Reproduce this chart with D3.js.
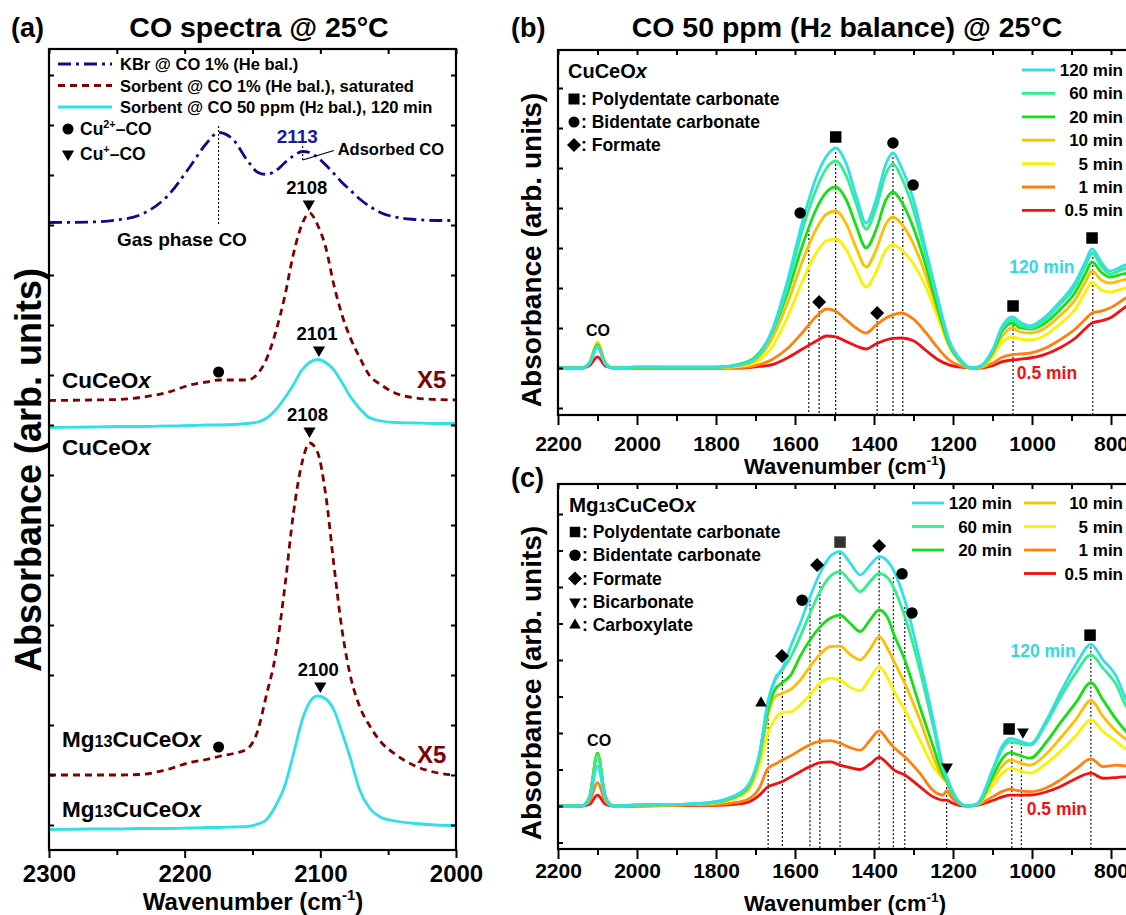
<!DOCTYPE html>
<html>
<head>
<meta charset="utf-8">
<script src="https://cdn.jsdelivr.net/npm/d3@7"></script>
<style>
  body { margin: 0; background: #fff; }
</style>
</head>
<body>
<div id="chart"></div>
<script>
// ---------- data ----------
// panel (a): CO region, offsets in tick units
var wnA = [2300, 2270, 2250, 2233, 2213, 2196, 2184, 2175, 2164, 2154, 2146, 2140, 2133, 2126, 2120,
  2113, 2108, 2102, 2096, 2090, 2084, 2078, 2071, 2064, 2055, 2045, 2030, 2015, 2000];
var kbrA = [12.05, 12.06, 12.1, 12.2, 12.57, 13.17, 13.63, 13.85, 13.7, 13.3, 13.05, 13.01, 13.08, 13.25, 13.38,
  13.47, 13.45, 13.35, 13.2, 13.03, 12.85, 12.7, 12.52, 12.38, 12.24, 12.16, 12.11, 12.09, 12.09];
var cuSatA = [8.49, 8.5, 8.51, 8.55, 8.65, 8.8, 8.86, 8.9, 8.9, 8.9, 9.03, 9.3, 9.85, 10.6, 11.4,
  12.05, 12.24, 12.0, 11.55, 10.8, 10.2, 9.75, 9.35, 9.0, 8.8, 8.64, 8.54, 8.51, 8.5];
var cuH2A = [7.95, 7.96, 7.97, 7.97, 7.98, 7.99, 8.0, 8.0, 8.01, 8.03, 8.06, 8.13, 8.3, 8.55, 8.8,
  9.12, 9.25, 9.31, 9.25, 9.1, 8.85, 8.57, 8.33, 8.15, 8.08, 8.05, 8.04, 8.03, 8.03];
var mgSatA = [1.0, 1.0, 1.0, 1.01, 1.11, 1.25, 1.31, 1.37, 1.43, 1.52, 1.9, 2.57, 3.4, 4.8, 6.2,
  7.3, 7.64, 7.45, 6.6, 5.2, 3.9, 3.0, 2.37, 2.0, 1.65, 1.42, 1.18, 1.05, 1.0];
var mgH2A = [-0.09, -0.08, -0.08, -0.07, -0.07, -0.06, -0.05, -0.05, -0.04, -0.03, 0.02, 0.1, 0.38, 0.8, 1.4,
  2.13, 2.45, 2.58, 2.52, 2.3, 1.85, 1.35, 0.7, 0.35, 0.15, 0.08, 0.03, 0.0, -0.01];

// panel (b): CuCeOx time series
var times = ["120 min", "60 min", "20 min", "10 min", "5 min", "1 min", "0.5 min"];
var timeColors = ["#33dfe6", "#2ef08c", "#14e014", "#ffbf00", "#f8f400", "#ff800a", "#f21010"];
var wnB = [2200, 2140, 2120, 2100, 2080, 2060, 2000, 1900, 1800, 1740, 1700, 1660, 1620, 1580, 1545, 1520,
  1497, 1470, 1445, 1420, 1395, 1370, 1352, 1330, 1300, 1270, 1240, 1210, 1180, 1155, 1130, 1100,
  1075, 1050, 1030, 1005, 970, 930, 890, 865, 848, 825, 803, 770, 740, 700];
var b120 = [0, 0, 0.012, 0.052, 0.01, 0, 0.003, 0.002, 0.002, 0.008, 0.025, 0.09, 0.215, 0.37, 0.48, 0.53,
  0.55, 0.51, 0.43, 0.3625, 0.42, 0.51, 0.5375, 0.5, 0.42, 0.3, 0.18, 0.07, 0.02, 0, 0.005, 0.045,
  0.105, 0.1275, 0.115, 0.105, 0.125, 0.165, 0.215, 0.265, 0.2975, 0.265, 0.2425, 0.255, 0.265, 0.27];
var b60 = [0, 0, 0.012, 0.055, 0.01, 0, 0.002, 0.002, 0.002, 0.008, 0.024, 0.085, 0.2, 0.35, 0.45, 0.5,
  0.5175, 0.48, 0.41, 0.3475, 0.4, 0.485, 0.51, 0.475, 0.395, 0.285, 0.17, 0.065, 0.018, 0, 0.005, 0.043,
  0.1, 0.12, 0.108, 0.1, 0.118, 0.158, 0.205, 0.255, 0.2875, 0.255, 0.235, 0.247, 0.255, 0.26];
var b20 = [0, 0, 0.013, 0.058, 0.011, 0, 0.002, 0.002, 0.002, 0.01, 0.028, 0.085, 0.185, 0.31, 0.4, 0.44,
  0.4525, 0.42, 0.355, 0.3, 0.345, 0.42, 0.44, 0.415, 0.35, 0.26, 0.155, 0.06, 0.016, 0, 0.004, 0.04,
  0.093, 0.1125, 0.1, 0.0975, 0.11, 0.145, 0.19, 0.235, 0.265, 0.24, 0.2275, 0.235, 0.24, 0.245];
var b10 = [0, 0, 0.014, 0.062, 0.012, 0, 0.001, 0.001, 0.001, 0.006, 0.02, 0.07, 0.16, 0.27, 0.35, 0.385,
  0.3925, 0.36, 0.3, 0.2525, 0.295, 0.36, 0.3775, 0.36, 0.31, 0.235, 0.145, 0.058, 0.015, 0, 0.003, 0.035,
  0.08, 0.1, 0.09, 0.0875, 0.098, 0.13, 0.172, 0.215, 0.2425, 0.22, 0.2125, 0.22, 0.225, 0.23];
var b5 = [0, 0, 0.015, 0.066, 0.013, 0, 0.001, 0.001, 0.001, 0.004, 0.014, 0.05, 0.125, 0.22, 0.29, 0.318,
  0.3225, 0.295, 0.245, 0.2025, 0.24, 0.295, 0.3075, 0.295, 0.26, 0.205, 0.13, 0.055, 0.014, 0, 0.002, 0.028,
  0.065, 0.0775, 0.072, 0.07, 0.08, 0.11, 0.148, 0.19, 0.215, 0.195, 0.19, 0.198, 0.205, 0.21];
var b1 = [0, 0, 0.012, 0.055, 0.01, 0, 0, 0, 0, 0.001, 0.006, 0.02, 0.048, 0.09, 0.13, 0.1475,
  0.142, 0.12, 0.1, 0.0875, 0.107, 0.125, 0.133, 0.1375, 0.122, 0.09, 0.052, 0.02, 0.005, 0, 0.001, 0.012,
  0.027, 0.033, 0.035, 0.037, 0.048, 0.07, 0.098, 0.122, 0.1375, 0.142, 0.15, 0.17, 0.19, 0.21];
var b05 = [0, 0, 0.006, 0.028, 0.005, 0, 0, 0, 0, 0, 0.003, 0.008, 0.025, 0.048, 0.068, 0.08,
  0.078, 0.066, 0.055, 0.0475, 0.06, 0.07, 0.074, 0.075, 0.068, 0.045, 0.022, 0.008, 0.002, 0, 0, 0.006,
  0.016, 0.02, 0.022, 0.025, 0.033, 0.05, 0.075, 0.098, 0.1125, 0.118, 0.125, 0.148, 0.17, 0.19];

// panel (c): Mg13CuCeOx time series
var wnC = [2200, 2140, 2120, 2100, 2080, 2060, 2000, 1900, 1800, 1760, 1720, 1690, 1668, 1650, 1632, 1610,
  1587, 1562, 1537, 1510, 1486, 1460, 1435, 1410, 1387, 1365, 1351, 1322, 1284, 1250, 1225, 1216,
  1205, 1185, 1165, 1140, 1100, 1075, 1055, 1035, 1005, 963, 929, 887, 851, 820, 786, 765, 740, 700];
var c120 = [0, 0, 0.02, 0.11, 0.02, 0, 0.003, 0.004, 0.012, 0.025, 0.055, 0.145, 0.29, 0.35, 0.377, 0.44,
  0.5, 0.573, 0.637, 0.685, 0.697, 0.665, 0.633, 0.66, 0.683, 0.67, 0.647, 0.564, 0.4, 0.236, 0.108, 0.08,
  0.05, 0.012, 0, 0.005, 0.099, 0.165, 0.185, 0.18, 0.17, 0.236, 0.309, 0.391, 0.443, 0.4, 0.354, 0.3, 0.26, 0.22];
var c60 = [0, 0, 0.025, 0.14, 0.025, 0, 0.003, 0.004, 0.011, 0.023, 0.052, 0.14, 0.28, 0.345, 0.373, 0.41,
  0.464, 0.528, 0.587, 0.63, 0.642, 0.615, 0.587, 0.615, 0.637, 0.625, 0.6, 0.519, 0.373, 0.217, 0.1, 0.075,
  0.046, 0.011, 0, 0.005, 0.095, 0.157, 0.176, 0.172, 0.167, 0.228, 0.296, 0.368, 0.414, 0.377, 0.331, 0.28, 0.245, 0.21];
var c20 = [0, 0, 0.026, 0.145, 0.026, 0, 0.003, 0.004, 0.011, 0.022, 0.05, 0.14, 0.265, 0.32, 0.338, 0.36,
  0.41, 0.455, 0.49, 0.515, 0.523, 0.5, 0.478, 0.51, 0.537, 0.515, 0.474, 0.4, 0.272, 0.162, 0.085, 0.068,
  0.042, 0.01, 0, 0.004, 0.08, 0.13, 0.146, 0.14, 0.131, 0.176, 0.227, 0.286, 0.338, 0.29, 0.236, 0.208, 0.18, 0.16];
var c10 = [0, 0, 0.026, 0.145, 0.026, 0, 0.002, 0.003, 0.009, 0.02, 0.045, 0.13, 0.25, 0.3, 0.309, 0.32,
  0.345, 0.382, 0.415, 0.437, 0.438, 0.415, 0.4, 0.43, 0.464, 0.43, 0.4, 0.336, 0.236, 0.135, 0.075, 0.065,
  0.04, 0.01, 0, 0.004, 0.07, 0.11, 0.126, 0.12, 0.112, 0.144, 0.185, 0.24, 0.289, 0.245, 0.204, 0.185, 0.17, 0.155];
var c5 = [0, 0, 0.026, 0.145, 0.026, 0, 0.002, 0.003, 0.008, 0.018, 0.04, 0.11, 0.2, 0.24, 0.256, 0.258,
  0.277, 0.304, 0.336, 0.35, 0.345, 0.325, 0.316, 0.35, 0.382, 0.35, 0.318, 0.263, 0.181, 0.108, 0.08, 0.077,
  0.05, 0.012, 0, 0.003, 0.055, 0.09, 0.103, 0.098, 0.09, 0.117, 0.149, 0.195, 0.236, 0.204, 0.176, 0.158, 0.15, 0.14];
var c1 = [0, 0, 0.012, 0.065, 0.012, 0, 0.001, 0.002, 0.004, 0.008, 0.018, 0.05, 0.104, 0.115, 0.126, 0.138,
  0.153, 0.168, 0.177, 0.179, 0.172, 0.16, 0.153, 0.18, 0.206, 0.18, 0.162, 0.135, 0.09, 0.042, 0.03, 0.042,
  0.025, 0.006, 0, 0.003, 0.025, 0.04, 0.046, 0.042, 0.039, 0.05, 0.071, 0.103, 0.129, 0.108, 0.112, 0.11, 0.11, 0.11];
var c05 = [0, 0, 0.005, 0.03, 0.005, 0, 0, 0.001, 0.002, 0.004, 0.01, 0.03, 0.053, 0.06, 0.067, 0.08,
  0.094, 0.108, 0.119, 0.121, 0.112, 0.105, 0.1, 0.115, 0.133, 0.115, 0.1, 0.085, 0.053, 0.025, 0.016, 0.016,
  0.01, 0.002, 0, 0.002, 0.015, 0.025, 0.03, 0.03, 0.03, 0.039, 0.053, 0.076, 0.09, 0.076, 0.078, 0.08, 0.08, 0.08];

// band assignments: marker type, wavenumber, absorbance
var markBType = ["sq", "ci", "ci", "ci", "di", "di", "sq", "sq"];
var markBWn = [1497, 1352, 1587, 1301, 1539, 1392, 1048, 848];
var markBAbs = [0.5775, 0.5625, 0.3875, 0.4575, 0.165, 0.1375, 0.155, 0.325];
var dropBWn = [1565, 1539, 1497, 1392, 1352, 1327, 1048, 846];
var dropBTop = [0.345, 0.1525, 0.54, 0.1275, 0.5275, 0.4275, 0.1075, 0.2875];

var markCType = ["sq", "di", "di", "ci", "ci", "ci", "di", "tu", "td", "sq", "sq", "td"];
var markCWn = [1486, 1387, 1544, 1582, 1329, 1304, 1633, 1686, 1215, 853, 1058, 1023];
var markCAbs = [0.723, 0.712, 0.66, 0.564, 0.636, 0.529, 0.411, 0.282, 0.107, 0.468, 0.211, 0.203];
var dropCWn = [1668, 1632, 1562, 1537, 1486, 1387, 1351, 1322, 1216, 1051, 1027, 851];
var dropCTop = [0.271, 0.367, 0.564, 0.614, 0.693, 0.679, 0.627, 0.545, 0.063, 0.186, 0.172, 0.436];

// ---------- setup ----------
var width = 1126, height = 915;
var FONT = '"Liberation Sans", Arial, Helvetica, sans-serif';

var svg = d3.select("#chart").append("svg")
  .attr("width", width)
  .attr("height", height)
  .style("font-family", FONT)
  .style("font-weight", "bold");

var defs = svg.append("defs");

function clip(id, x0, y0, x1, y1) {
  defs.append("clipPath").attr("id", id).append("rect")
    .attr("x", x0).attr("y", y0).attr("width", x1 - x0).attr("height", y1 - y0);
}

// text with tspans (sup / small / italic)
function rich(g, x, y, parts, fs, anchor, color) {
  var t = g.append("text").attr("x", x).attr("y", y)
    .attr("font-size", fs).attr("text-anchor", anchor || "start")
    .attr("fill", color || "#000");
  var shift = 0;
  parts.forEach(function (p) {
    if (typeof p === "string") p = { t: p };
    var s = t.append("tspan").text(p.t);
    var want = p.sup ? -0.42 * fs : 0;
    if (want !== shift) { s.attr("dy", want - shift); shift = want; }
    if (p.sup || p.small) s.attr("font-size", fs * (p.sup ? 0.62 : 0.72));
    if (p.it) s.attr("font-style", "italic");
  });
  return t;
}

function marker(g, type, cx, cy, s, fill) {
  var sym = d3.symbolSquare, size = s * s, rot = 0;
  if (type === "ci") { sym = d3.symbolCircle; size = Math.PI * s * s / 4; }
  if (type === "di") { size = s * s / 2; rot = 45; }
  if (type === "tu") { sym = d3.symbolTriangle; size = s * s * 0.45; }
  if (type === "td") { sym = d3.symbolTriangle; size = s * s * 0.45; rot = 180; }
  g.append("path")
    .attr("d", d3.symbol().type(sym).size(size)())
    .attr("transform", "translate(" + cx + "," + cy + ") rotate(" + rot + ")")
    .attr("fill", fill || "#000");
}

function styleAxis(sel, fs) {
  sel.select(".domain").remove();
  sel.selectAll("line").attr("stroke", "#000").attr("stroke-width", 2);
  sel.selectAll("text").attr("font-size", fs).attr("font-family", FONT)
    .attr("font-weight", "bold").attr("fill", "#000");
}

function axes(g, x, y, o) {
  var r = x.range(), yr = y.range();
  var bottom = yr[0], top = yr[1];
  g.append("g").attr("transform", "translate(0," + bottom + ")")
    .call(d3.axisBottom(x).tickValues(o.major).tickSize(o.majLen).tickPadding(o.pad).tickFormat(d3.format("d")))
    .call(styleAxis, o.fs);
  g.append("g").attr("transform", "translate(0," + bottom + ")")
    .call(d3.axisBottom(x).tickValues(o.minor).tickSize(o.minLen).tickFormat(""))
    .call(styleAxis, o.fs);
  g.append("g").attr("transform", "translate(0," + top + ")")
    .call(d3.axisTop(x).tickValues(o.major.concat(o.minor)).tickSize(-5).tickFormat(""))
    .call(styleAxis, o.fs);
  g.append("g").attr("transform", "translate(" + r[0] + ",0)")
    .call(d3.axisLeft(y).tickValues(o.yTicks).tickSize(-5).tickFormat(""))
    .call(styleAxis, o.fs);
  g.append("g").attr("transform", "translate(" + r[1] + ",0)")
    .call(d3.axisRight(y).tickValues(o.yTicks).tickSize(-5).tickFormat(""))
    .call(styleAxis, o.fs);
  g.append("rect").attr("x", r[0]).attr("y", top)
    .attr("width", r[1] - r[0]).attr("height", bottom - top)
    .attr("fill", "none").attr("stroke", "#000").attr("stroke-width", 2.2);
}

function spectrum(g, x, y, wn, vals, color, dash, clipId) {
  var line = d3.line()
    .x(function (d, i) { return x(wn[i]); })
    .y(function (d) { return y(d); })
    .curve(d3.curveMonotoneX);
  g.append("path").datum(vals)
    .attr("d", line)
    .attr("fill", "none")
    .attr("stroke", color)
    .attr("stroke-width", 2.8)
    .attr("stroke-dasharray", dash || null)
    .attr("clip-path", "url(#" + clipId + ")");
}

function dotted(g, x, y, w, v0, v1) {
  g.append("line")
    .attr("x1", x(w)).attr("x2", x(w))
    .attr("y1", y(v0)).attr("y2", y(v1))
    .attr("stroke", "#000").attr("stroke-width", 1.1)
    .attr("stroke-dasharray", "2,2");
}

function xLabel(g, cx, by, fs) {
  rich(g, cx, by, ["Wavenumber (cm", { t: "-1", sup: true }, ")"], fs, "middle");
}
function yLabel(g, bx, cy, fs) {
  g.append("text").attr("transform", "translate(" + bx + "," + cy + ") rotate(-90)")
    .attr("text-anchor", "middle").attr("font-size", fs).text("Absorbance (arb. units)");
}

// ---------- panel (a) ----------
var xA = d3.scaleLinear().domain([2300, 2000]).range([49, 456]);
var yA = d3.scaleLinear().domain([-0.5, 15.52]).range([850, 49]);
var gA = svg.append("g");
clip("clipA", 49, 49, 456, 850);

spectrum(gA, xA, yA, wnA, kbrA, "#0c0c8e", "13,5,3,5", "clipA");
spectrum(gA, xA, yA, wnA, cuSatA, "#800000", "7,5", "clipA");
spectrum(gA, xA, yA, wnA, cuH2A, "#33dfe6", null, "clipA");
spectrum(gA, xA, yA, wnA, mgSatA, "#800000", "7,5", "clipA");
spectrum(gA, xA, yA, wnA, mgH2A, "#33dfe6", null, "clipA");

axes(gA, xA, yA, {
  major: [2300, 2200, 2100, 2000], minor: [2250, 2150, 2050],
  majLen: 8, minLen: 5, pad: 7, fs: 24, yTicks: d3.range(0, 16)
});

// legend (a)
var legA = [["13,5,3,5", "#0c0c8e", ["KBr @ CO 1% (He bal.)"]],
  ["7,5", "#800000", ["Sorbent @ CO 1% (He bal.), saturated"]],
  [null, "#33dfe6", ["Sorbent @ CO 50 ppm (H", { t: "2", small: true }, " bal.), 120 min"]]];
legA.forEach(function (d, i) {
  var yy = 64 + i * 21.5;
  gA.append("line").attr("x1", 58).attr("x2", 112).attr("y1", yy).attr("y2", yy)
    .attr("stroke", d[1]).attr("stroke-width", 2.8).attr("stroke-dasharray", d[0]);
  rich(gA, 120, yy + 6, d[2], 16.5);
});
marker(gA, "ci", 68, 129, 11);
rich(gA, 80, 135, ["Cu", { t: "2+", sup: true }, "\u2013CO"], 17.5);
marker(gA, "td", 68, 154, 12);
rich(gA, 80, 160, ["Cu", { t: "+", sup: true }, "\u2013CO"], 17.5);

// annotations (a)
dotted(gA, xA, yA, 2175, 13.98, 11.98);
rich(gA, xA(2202), yA(11.58), ["Gas phase CO"], 19, "middle");
rich(gA, xA(2117), yA(13.64), ["2113"], 19, "middle", "#1a1aa0");
dotted(gA, xA, yA, 2113, 13.58, 13.3);
gA.append("line").attr("x1", xA(2113)).attr("y1", yA(13.3)).attr("x2", xA(2090)).attr("y2", yA(13.49))
  .attr("stroke", "#000").attr("stroke-width", 1.2);
rich(gA, xA(2048), yA(13.4), ["Adsorbed CO"], 16.5, "middle");

var peakLblA = ["2108", "2101", "2108", "2100"];
var peakWnA = [2108.5, 2101, 2108, 2100];
var peakTriA = [12.42, 9.5, 7.88, 2.78];
peakLblA.forEach(function (t, i) {
  marker(gA, "td", xA(peakWnA[i]), yA(peakTriA[i]), 12);
  rich(gA, xA(peakWnA[i]) - 2, yA(peakTriA[i]) - 10, [t], 18.5, "middle");
});
marker(gA, "ci", xA(2175), yA(9.06), 11);
marker(gA, "ci", xA(2175), yA(1.56), 11);

rich(gA, 62, yA(8.74), ["CuCeO", { t: "x", it: true }], 22.5);
rich(gA, 62, yA(7.4), ["CuCeO", { t: "x", it: true }], 22.5);
rich(gA, 62, yA(1.56), ["Mg", { t: "13", small: true }, "CuCeO", { t: "x", it: true }], 22.5);
rich(gA, 62, yA(0.16), ["Mg", { t: "13", small: true }, "CuCeO", { t: "x", it: true }], 22.5);
rich(gA, xA(2018), yA(8.74), ["X5"], 24, "middle", "#800000");
rich(gA, xA(2018), yA(1.24), ["X5"], 24, "middle", "#800000");

rich(gA, 11, 37, ["(a)"], 27);
rich(gA, 259, 37, ["CO spectra @ 25\u00b0C"], 28.5, "middle");
xLabel(gA, 253, 910, 24);
yLabel(gA, 41, 470, 36);

// ---------- panels (b) and (c) ----------
var xB = d3.scaleLinear().domain([2200, 700]).range([558, 1150.5]);
var yB = d3.scaleLinear().domain([-0.1175, 0.795]).range([415, 50]);
var yC = d3.scaleLinear().domain([-0.1178, 0.8822]).range([849, 484]);
clip("clipB", 558, 50, 1150, 415);
clip("clipC", 558, 484, 1150, 849);

var seriesB = [b120, b60, b20, b10, b5, b1, b05];
var seriesC = [c120, c60, c20, c10, c5, c1, c05];
var xMajor = [2200, 2000, 1800, 1600, 1400, 1200, 1000, 800];
var xMinor = [2100, 1900, 1700, 1500, 1300, 1100, 900, 700];

var gB = svg.append("g");
dropBWn.forEach(function (w, i) { dotted(gB, xB, yB, w, dropBTop[i], -0.1175); });
for (var i = seriesB.length - 1; i >= 0; i--) spectrum(gB, xB, yB, wnB, seriesB[i], timeColors[i], null, "clipB");
axes(gB, xB, yB, {
  major: xMajor, minor: xMinor, majLen: 10, minLen: 6, pad: 11, fs: 21,
  yTicks: [-0.1, 0, 0.1, 0.2, 0.3, 0.4, 0.5, 0.6, 0.7]
});
markBType.forEach(function (t, i) { marker(gB, t, xB(markBWn[i]), yB(markBAbs[i]), t === "di" ? 14 : 11.5); });

rich(gB, 568, 78, ["CuCeO", { t: "x", it: true }], 20);
var legBType = ["sq", "ci", "di"];
var legBText = [": Polydentate carbonate", ": Bidentate carbonate", ": Formate"];
legBType.forEach(function (t, i) {
  var yy = 99 + i * 23;
  marker(gB, t, 574, yy, t === "di" ? 14 : 11);
  rich(gB, 581, yy + 6, [legBText[i]], 17.5);
});
times.forEach(function (t, i) {
  var yy = 70 + i * 23.4;
  gB.append("line").attr("x1", 1022).attr("x2", 1055).attr("y1", yy).attr("y2", yy)
    .attr("stroke", timeColors[i]).attr("stroke-width", 2.8);
  rich(gB, 1123, yy + 6, [t], 17, "end");
});
rich(gB, xB(2099), yB(0.08), ["CO"], 16, "middle");
rich(gB, xB(975), yB(0.2375), ["120 min"], 17.5, "middle", "#33d8e6");
rich(gB, xB(962), yB(-0.0275), ["0.5 min"], 17.5, "middle", "#f21010");
rich(gB, 511, 37, ["(b)"], 27);
rich(gB, 847, 37, ["CO 50 ppm (H", { t: "2", small: true }, " balance) @ 25\u00b0C"], 28.5, "middle");
xLabel(gB, 845, 474, 22);
yLabel(gB, 541, 250, 28);

var gC = svg.append("g");
dropCWn.forEach(function (w, i) { dotted(gC, xB, yC, w, dropCTop[i], -0.1178); });
for (var j = seriesC.length - 1; j >= 0; j--) spectrum(gC, xB, yC, wnC, seriesC[j], timeColors[j], null, "clipC");
axes(gC, xB, yC, {
  major: xMajor, minor: xMinor, majLen: 10, minLen: 6, pad: 4, fs: 21,
  yTicks: [-0.1, 0, 0.1, 0.2, 0.3, 0.4, 0.5, 0.6, 0.7, 0.8]
});
markCType.forEach(function (t, i) {
  marker(gC, t, xB(markCWn[i]), yC(markCAbs[i]), t === "di" ? 14 : 11.5, i === 0 ? "#333" : "#000");
});

rich(gC, 569, 512, ["Mg", { t: "13", small: true }, "CuCeO", { t: "x", it: true }], 20.5);
var legCType = ["sq", "ci", "di", "td", "tu"];
var legCText = [": Polydentate carbonate", ": Bidentate carbonate", ": Formate", ": Bicarbonate", ": Carboxylate"];
legCType.forEach(function (t, i) {
  var yy = 532 + i * 23.3;
  marker(gC, t, 575, yy, t === "di" ? 14 : (t === "sq" ? 10.5 : 11.5));
  rich(gC, 582, yy + 6, [legCText[i]], 17.5);
});
times.forEach(function (t, i) {
  var col = i < 3 ? 0 : 1;
  var row = i < 3 ? i : i - 3;
  var yy = 503 + row * 23.5;
  var x0 = col ? 1024 : 912;
  gC.append("line").attr("x1", x0).attr("x2", x0 + 32).attr("y1", yy).attr("y2", yy)
    .attr("stroke", timeColors[i]).attr("stroke-width", 2.8);
  rich(gC, col ? 1123 : 1012, yy + 6, [t], 17, "end");
});
rich(gC, xB(2096), yC(0.164), ["CO"], 16, "middle");
rich(gC, xB(972), yC(0.408), ["120 min"], 17.5, "middle", "#33d8e6");
rich(gC, xB(937), yC(-0.0247), ["0.5 min"], 17.5, "middle", "#f21010");
rich(gC, 511, 487, ["(c)"], 27);
xLabel(gC, 845, 911, 22);
yLabel(gC, 541, 683, 28);
</script>
</body>
</html>
